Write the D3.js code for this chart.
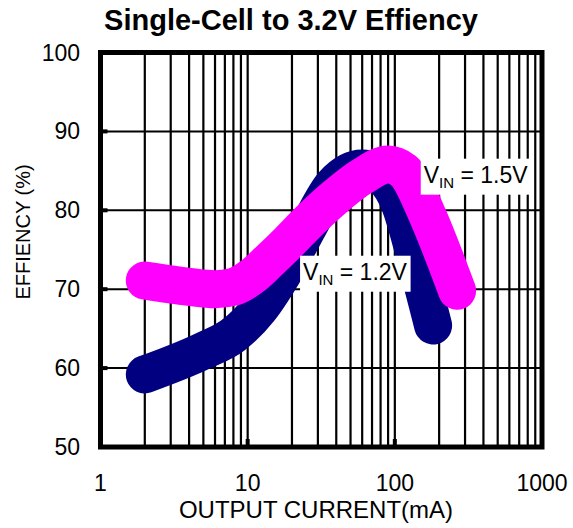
<!DOCTYPE html>
<meta charset="utf-8">
<script src="https://cdn.jsdelivr.net/npm/d3@7"></script>
<style>
body { margin: 0; background: #fff; }
text { font-family: "Liberation Sans", Arial, Helvetica, sans-serif; fill: #000; }
</style>
<body>
<script>

var title = "Single-Cell to 3.2V Effiency";
var xLabel = "OUTPUT CURRENT(mA)";
var yLabel = "EFFIENCY (%)";
var xTicks = [1, 10, 100, 1000];
var yTicks = [50, 60, 70, 80, 90, 100];

// VIN = 1.2V (navy)
var current12 = [2, 5, 8, 12, 18, 26, 38, 60, 85, 107, 145, 182];
var eff12 = [59.2, 62.2, 64.2, 67.5, 72.5, 78, 83.2, 85.3, 84, 81, 72.5, 65.4];

// VIN = 1.5V (magenta)
var current15 = [2, 4, 6, 8, 11, 14, 19, 26, 40, 60, 90, 115, 170, 220, 265];
var eff15 = [71.1, 70.3, 70, 70.3, 71.8, 73.6, 76, 78.6, 81.8, 84.3, 85.8, 85, 79, 73.8, 69.8];

var labelText = ["1.2V", "1.5V"];
var labelAt = [[22.7, 71.2], [150, 83.5]];   // (mA, %) where the label text starts

var width = 573, height = 528;
var plotL = 100.5, plotR = 542, plotT = 52.5, plotB = 447;

var svg = d3.select("body").append("svg")
    .attr("width", width)
    .attr("height", height);

var x = d3.scaleLog().domain([1, 1000]).range([plotL, plotR]);
var y = d3.scaleLinear().domain([50, 100]).range([plotB, plotT]);

// grid
svg.append("g")
  .selectAll("line")
  .data(x.ticks().filter(function(d) { return d > 1 && d < 1000; }))
  .enter().append("line")
    .attr("x1", function(d) { return x(d); })
    .attr("x2", function(d) { return x(d); })
    .attr("y1", plotT)
    .attr("y2", plotB)
    .attr("stroke", "#000")
    .attr("stroke-width", 2.2);

svg.append("g")
  .selectAll("line")
  .data(yTicks.filter(function(d) { return d > 50 && d < 100; }))
  .enter().append("line")
    .attr("x1", plotL)
    .attr("x2", plotR)
    .attr("y1", function(d) { return y(d); })
    .attr("y2", function(d) { return y(d); })
    .attr("stroke", "#000")
    .attr("stroke-width", 2);

// small tick marks
svg.append("g")
  .selectAll("rect")
  .data(yTicks)
  .enter().append("rect")
    .attr("x", plotL)
    .attr("y", function(d) { return y(d) - 2; })
    .attr("width", 7)
    .attr("height", 4)
    .attr("fill", "#000");

svg.append("g")
  .selectAll("rect")
  .data([10, 100])
  .enter().append("rect")
    .attr("x", function(d) { return x(d) - 2; })
    .attr("y", plotB - 8)
    .attr("width", 4)
    .attr("height", 8)
    .attr("fill", "#000");

// frame
svg.append("rect")
    .attr("x", plotL)
    .attr("y", plotT)
    .attr("width", plotR - plotL)
    .attr("height", plotB - plotT)
    .attr("fill", "none")
    .attr("stroke", "#000")
    .attr("stroke-width", 5);

// curves
var line = d3.line()
    .x(function(d) { return x(d[0]); })
    .y(function(d) { return y(d[1]); })
    .curve(d3.curveMonotoneX);

var series = [
  { pts: d3.zip(current12, eff12), color: "#000080" },
  { pts: d3.zip(current15, eff15), color: "#ff00ff" }
];

svg.append("g")
  .selectAll("path")
  .data(series)
  .enter().append("path")
    .attr("d", function(d) { return line(d.pts); })
    .attr("fill", "none")
    .attr("stroke", function(d) { return d.color; })
    .attr("stroke-width", 38)
    .attr("stroke-linecap", "round")
    .attr("stroke-linejoin", "round");

// curve labels with white background
labelText.forEach(function(t, i) {
  var g = svg.append("g");
  var bg = g.append("rect").attr("fill", "#fff");
  var txt = g.append("text")
      .attr("x", x(labelAt[i][0]) + 3)
      .attr("y", y(labelAt[i][1]))
      .style("font-size", "23px");
  txt.append("tspan").text("V");
  txt.append("tspan").attr("dy", 5).style("font-size", "15px").text("IN");
  txt.append("tspan").attr("dy", -5).text(" = " + t);
  var b = txt.node().getBBox();
  bg.attr("x", b.x - 3)
    .attr("y", b.y - 3)
    .attr("width", b.width + 6)
    .attr("height", b.height + 7);
});

// axis labels
svg.append("g")
  .selectAll("text")
  .data(yTicks)
  .enter().append("text")
    .attr("x", 80)
    .attr("y", function(d) { return y(d) + 8; })
    .attr("text-anchor", "end")
    .style("font-size", "23px")
    .text(function(d) { return d; });

svg.append("g")
  .selectAll("text")
  .data(xTicks)
  .enter().append("text")
    .attr("x", function(d) { return x(d); })
    .attr("y", 491)
    .attr("text-anchor", "middle")
    .style("font-size", "23px")
    .text(function(d) { return d; });

svg.append("text")
    .attr("x", 316)
    .attr("y", 518)
    .attr("text-anchor", "middle")
    .style("font-size", "24px")
    .text(xLabel);

svg.append("text")
    .attr("transform", "translate(30,232) rotate(-90)")
    .attr("text-anchor", "middle")
    .style("font-size", "20px")
    .text(yLabel);

svg.append("text")
    .attr("x", 291)
    .attr("y", 30)
    .attr("text-anchor", "middle")
    .style("font-size", "29px")
    .style("font-weight", "bold")
    .text(title);

</script>
</body>
